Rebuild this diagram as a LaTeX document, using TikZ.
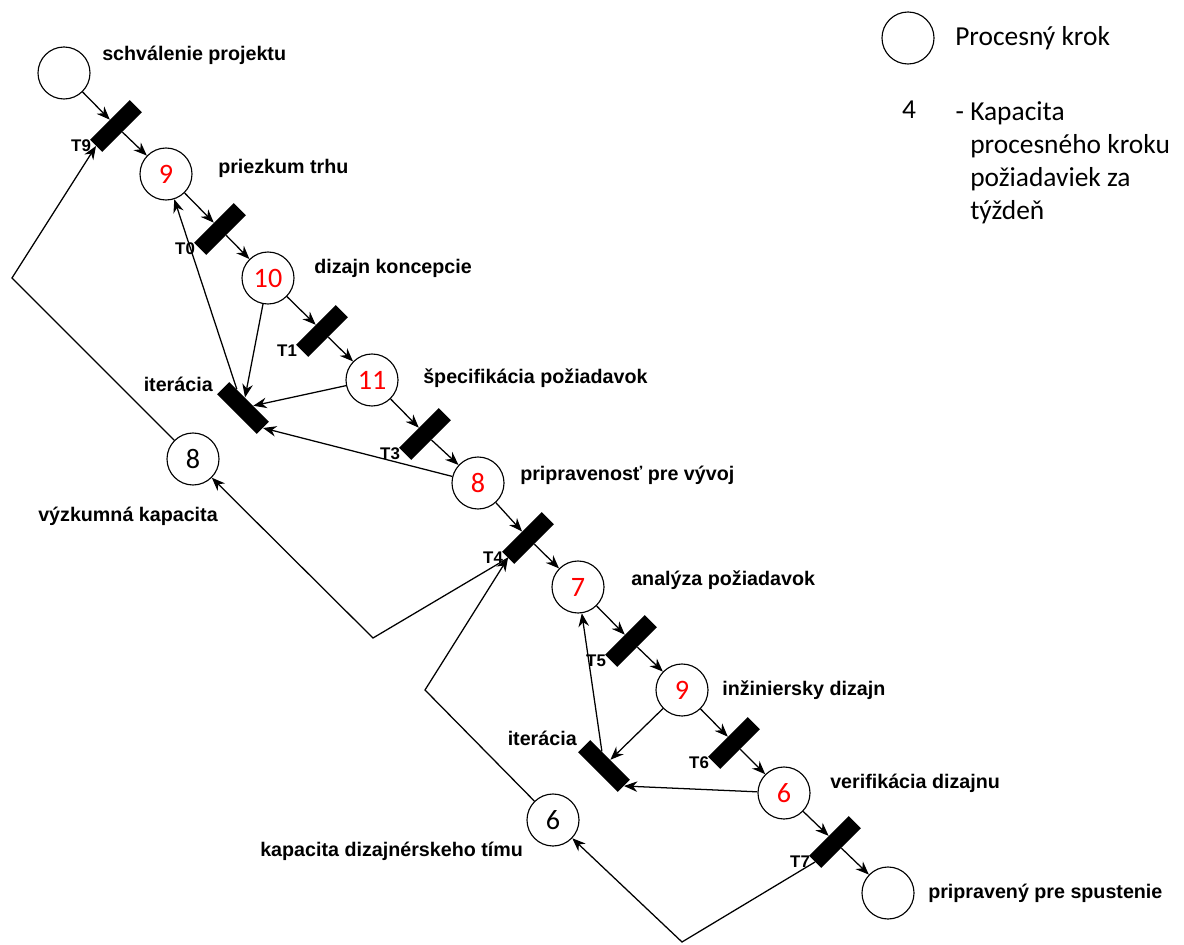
\documentclass[tikz,border=0pt]{standalone}
\usepackage{fontspec}
\setmainfont{Liberation Sans}
\newfontfamily\calib{Carlito}
\usetikzlibrary{arrows.meta,positioning}
\tikzset{place/.style={draw,circle,minimum size=13mm,inner sep=0pt,line width=0.8pt,
 font=\calib\fontsize{20}{20}\selectfont},token/.style={place,text=red},
 bar/.style={fill=black,rectangle,minimum width=14mm,minimum height=4.3mm,inner sep=0pt},
 trans/.style={bar,rotate=45},iter/.style={bar,rotate=-45},
 lbl/.style={font=\bfseries\fontsize{14}{16}\selectfont,inner sep=0pt},
 tlbl/.style={font=\bfseries\fontsize{12}{14}\selectfont,inner sep=0pt},
 legtxt/.style={font=\calib\fontsize{19.5}{23.5}\selectfont,inner sep=0pt},
 flow/.style={-{Stealth[length=9.5pt,width=7.5pt]},line width=0.9pt}}

\begin{document}
\begin{tikzpicture}[x=0.025cm,y=-0.025cm]
\useasboundingbox (0,0) rectangle (1184,945);
\node[place] (s0) at (64,73) {};
\node[token] (p1) at (166,174) {9};
\node[token] (p2) at (268,278) {10};
\node[token] (p3) at (372,380) {11};
\node[token] (p4) at (478,483) {8};
\node[token] (p5) at (578,587) {7};
\node[token] (p6) at (682,690) {9};
\node[token] (p7) at (784,793) {6};
\node[place] (p8) at (888,893) {};
\node[place] (c8) at (193,459) {8};
\node[place] (c6) at (553,820) {6};
\node[trans] (t9) at (116,126) {};
\node[trans] (t0) at (220,229) {};
\node[trans] (t1) at (322,331) {};
\node[trans] (t3) at (425,434) {};
\node[trans] (t4) at (528,538) {};
\node[trans] (t5) at (631,641) {};
\node[trans] (t6) at (734,743) {};
\node[trans] (t7) at (835,842) {};
\node[iter] (it1) at (243,408) {};
\node[iter] (it2) at (604,766) {};
\node[tlbl,left=1.2mm of t9.west] {T9};
\node[tlbl,left=1.2mm of t0.west] {T0};
\node[tlbl,left=1.2mm of t1.west] {T1};
\node[tlbl,left=1.2mm of t3.west] {T3};
\node[tlbl,left=1.2mm of t4.west] {T4};
\node[tlbl,left=1.2mm of t5.west] {T5};
\node[tlbl,left=1.2mm of t6.west] {T6};
\node[tlbl,left=1.2mm of t7.west] {T7};
\node[lbl,anchor=west] (n0) at (102,55) {schválenie projektu};
\node[lbl,anchor=west] (n1) at (218,168) {priezkum trhu};
\node[lbl,anchor=west] (n2) at (314,268) {dizajn koncepcie};
\node[lbl,anchor=west] (n3) at (423,378) {špecifikácia požiadavok};
\node[lbl,anchor=west] (n4) at (520,475) {pripravenosť pre vývoj};
\node[lbl,anchor=west] (n5) at (631,580) {analýza požiadavok};
\node[lbl,anchor=west] (n6) at (722,690) {inžiniersky dizajn};
\node[lbl,anchor=west] (n7) at (830,783) {verifikácia dizajnu};
\node[lbl,anchor=west] (n8) at (928,893) {pripravený pre spustenie};
\node[lbl,anchor=east] (i1) at (213,384) {iterácia};
\node[lbl,anchor=east] (i2) at (577,738) {iterácia};
\node[lbl,anchor=west] (k8) at (38,516) {výzkumná kapacita};
\node[lbl,anchor=west] (k6) at (260,851) {kapacita dizajnérskeho tímu};
\coordinate (b1) at (12,278);
\coordinate (b2) at (373,638);
\coordinate (b3) at (425,690);
\coordinate (b4) at (682,942);
\draw[flow] (s0)--(t9);
\draw[flow] (t9)--(p1);
\draw[flow] (p1)--(t0);
\draw[flow] (t0)--(p2);
\draw[flow] (p2)--(t1);
\draw[flow] (t1)--(p3);
\draw[flow] (p3)--(t3);
\draw[flow] (t3)--(p4);
\draw[flow] (p4)--(t4);
\draw[flow] (t4)--(p5);
\draw[flow] (p5)--(t5);
\draw[flow] (t5)--(p6);
\draw[flow] (p6)--(t6);
\draw[flow] (t6)--(p7);
\draw[flow] (p7)--(t7);
\draw[flow] (t7)--(p8);
\draw[flow] (p2)--(it1);
\draw[flow] (p3)--(it1);
\draw[flow] (p4)--(it1.east);
\draw[flow] (it1)--(p1);
\draw[flow] (p6)--(it2);
\draw[flow] (p7)--(it2.east);
\draw[flow] (it2)--(p5);
\draw[flow] (c8)--(b1)--(t9.west);
\draw[flow] (t4.west)--(b2)--(c8);
\draw[flow] (c6)--(b3)--(t4.west);
\draw[flow] (t7.west)--(b4)--(c6);
\node[place] (leg) at (908,38) {};
\node[legtxt,anchor=west] (legt) at (955,38) {Procesný krok};
\node[legtxt] (four) at (909,110) {4};
\node[legtxt,anchor=north west,align=left] (kap) at (970,101) {\llap{- }Kapacita\\procesného kroku\\požiadaviek za\\týždeň};
\end{tikzpicture}
\end{document}
